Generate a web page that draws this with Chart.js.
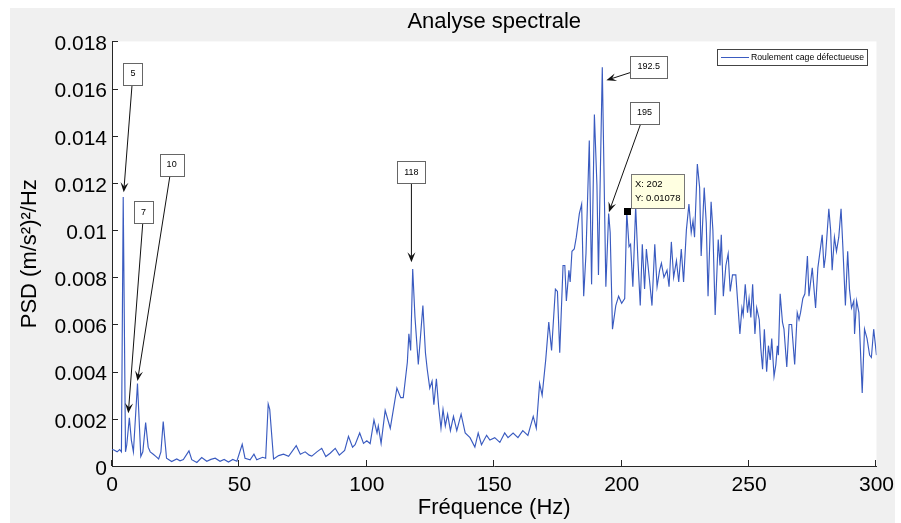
<!DOCTYPE html>
<html>
<head>
<meta charset="utf-8">
<title>Analyse spectrale</title>
<script src="https://cdn.jsdelivr.net/npm/chart.js@4.4.1/dist/chart.umd.min.js"></script>
<style>
  body { margin: 0; background: #fff; }
  canvas { display: block; }
</style>
</head>
<body>
<canvas id="chart" width="901" height="523"></canvas>
<script>
// spectrum (Hz / (m/s²)²/Hz)
const freq = [
  0, 0.8, 2, 3, 3.7, 4.4, 5.3, 5.8, 6.8, 7.6,
  8.4, 10, 11.3, 12.1, 13.2, 14.2, 15, 16.2, 17.3, 18.3,
  19.2, 20.1, 21.4, 23.4, 25.4, 26.7, 28, 30.2, 31.3, 33.3,
  35.2, 37.2, 38.8, 40.5, 42.4, 44, 45.7, 47.4, 49, 51.1,
  52.2, 54.2, 55.7, 56.8, 59.1, 60.3, 61.3, 61.9, 63.4, 65.4,
  67.3, 69.3, 72.3, 73.9, 75.8, 77.4, 78.4, 80.4, 82.3, 83.9,
  85.6, 87.6, 89.2, 91.3, 92.8, 94.4, 95.4, 97.2, 98.7, 100,
  101.3, 102.8, 104, 104.5, 105.6, 107.2, 109.2, 111.8, 113.3, 114.3,
  115.9, 116.5, 117.2, 118, 118.9, 120.2, 122, 123, 123.7, 124.7,
  125.6, 126.3, 127.3, 128.2, 129.1, 129.9, 130.8, 131.7, 132.8, 134,
  135.3, 137, 138.6, 140.5, 142.4, 143.7, 145, 147, 148.3, 150.2,
  152.2, 154.1, 155.4, 157.4, 159.3, 161.2, 163.2, 165.3, 166.5, 167.8,
  168.8, 170.2, 171.4, 172.5, 174, 174.8, 175.7, 177, 177.7, 178.3,
  179.3, 179.8, 180.5, 181.4, 182.2, 183.4, 184.3, 185.1, 186, 187.3,
  188.2, 189.3, 190.3, 190.9, 192.4, 193.8, 194.9, 195.5, 196.4, 197.7,
  198.8, 200, 201.2, 202, 202.9, 203.5, 204.4, 205.5, 206.4, 207.3,
  208.1, 209, 209.7, 211, 211.9, 213, 213.9, 214.9, 215.6, 216.6,
  217.8, 218.6, 219.5, 220.4, 221.5, 222.4, 223.4, 224.3, 225.4, 226.4,
  227.3, 228, 228.6, 229.7, 230.6, 231.2, 232.4, 233.2, 233.9, 235.1,
  235.8, 236.7, 237.9, 238.6, 239.1, 239.9, 240.9, 241.8, 242.6, 243.5,
  244.8, 245.5, 246.4, 247.2, 247.7, 248.5, 249.4, 250, 250.7, 251.4,
  252.3, 253, 254, 254.6, 255.3, 256, 256.9, 257.6, 258.3, 258.9,
  259.8, 260.5, 261.1, 261.5, 262.2, 263.1, 263.7, 264.8, 265.7, 266.7,
  267.9, 268.9, 269.6, 270.2, 271.1, 271.9, 272.9, 273.5, 274.8, 276.1,
  277, 278.7, 279.4, 280, 281.3, 282, 282.6, 283.5, 284.3, 285.2,
  286.1, 286.8, 287.8, 288.7, 289.4, 290.2, 291.1, 291.4, 292.2, 293.1,
  294.4, 295.3, 296.3, 297.3, 298, 298.9, 300
];
const psd = [
  0.0007, 0.00068, 0.0006, 0.0007, 0.0006, 0.0114, 0.0006, 0.0009, 0.00204, 0.0011,
  0.0006, 0.0035, 0.0004, 0.0006, 0.00184, 0.0008, 0.0006, 0.0005, 0.0004, 0.0003,
  0.0006, 0.00188, 0.00033, 0.00019, 0.0003, 0.00022, 0.00027, 0.00064, 0.00027, 0.00015,
  0.00036, 0.0002, 0.00028, 0.00033, 0.0002, 0.00028, 0.00017, 0.00028, 0.0002, 0.00092,
  0.00033, 0.00026, 0.0005, 0.00026, 0.00037, 0.00033, 0.00263, 0.0024, 0.0003, 0.00044,
  0.0005, 0.00041, 0.00086, 0.0005, 0.0006, 0.00046, 0.00042, 0.0006, 0.00075, 0.0004,
  0.00054, 0.00075, 0.00046, 0.00066, 0.00126, 0.0008, 0.0009, 0.0014, 0.00096, 0.00107,
  0.00095, 0.00195, 0.0014, 0.0017, 0.00096, 0.00236, 0.0016, 0.0033, 0.0029, 0.0029,
  0.0044, 0.0056, 0.0049, 0.00835, 0.0063, 0.0043, 0.0068, 0.0048, 0.0041, 0.0033,
  0.0036, 0.0026, 0.0037, 0.0025, 0.0016, 0.0024, 0.0017, 0.0022, 0.0015, 0.0021,
  0.0015, 0.0022, 0.0014, 0.0012, 0.0008, 0.0014, 0.0009, 0.0013, 0.0011, 0.0012,
  0.001, 0.0014, 0.0012, 0.0014, 0.0012, 0.0015, 0.0013, 0.0021, 0.0016, 0.0035,
  0.003, 0.0045, 0.0061, 0.0049, 0.0075, 0.0074, 0.0048, 0.0085, 0.0085, 0.007,
  0.0083, 0.0078, 0.0091, 0.0092, 0.0097, 0.0107, 0.0111, 0.0072, 0.009, 0.0138,
  0.0077, 0.0149, 0.0119, 0.0081, 0.0169, 0.0076, 0.0107, 0.0099, 0.0058, 0.0068,
  0.0072, 0.0069, 0.0071, 0.01078, 0.0093, 0.0094, 0.0076, 0.011, 0.0087, 0.0068,
  0.0094, 0.0075, 0.0092, 0.0078, 0.0068, 0.0094, 0.0076, 0.0083, 0.0086, 0.008,
  0.0083, 0.0076, 0.0095, 0.008, 0.0087, 0.0078, 0.0092, 0.0078, 0.01, 0.0111,
  0.0099, 0.0104, 0.0097, 0.0128, 0.0118, 0.0089, 0.0118, 0.0103, 0.0072, 0.0112,
  0.01, 0.0064, 0.0096, 0.0085, 0.0098, 0.0072, 0.0085, 0.009, 0.0074, 0.0081,
  0.0081, 0.007, 0.0056, 0.0067, 0.0064, 0.0077, 0.0065, 0.0071, 0.0063, 0.0077,
  0.0056, 0.0067, 0.0062, 0.005, 0.0041, 0.0058, 0.004, 0.0051, 0.0045, 0.0054,
  0.0038, 0.0043, 0.0051, 0.0047, 0.0073, 0.0061, 0.0058, 0.0042, 0.006, 0.006,
  0.0043, 0.0065, 0.0062, 0.0065, 0.0071, 0.0073, 0.0089, 0.0072, 0.0084, 0.0067,
  0.0084, 0.0098, 0.0084, 0.0089, 0.0109, 0.01, 0.0083, 0.0097, 0.0091, 0.0097,
  0.0109, 0.0093, 0.0068, 0.0091, 0.0075, 0.0067, 0.007, 0.0056, 0.007, 0.0065,
  0.0031, 0.0058, 0.0054, 0.0047, 0.0046, 0.0058, 0.0047
];
const seriesLabel = 'Roulement cage défectueuse';

// text-arrow annotations: label, arrow tip and box centre in data units
const noteLabels = ['5', '7', '10', '118', '192.5', '195'];
const noteTipX = [4.6, 6.4, 10.0, 117.5, 194.0, 195.0];
const noteTipY = [0.0116, 0.00224, 0.0036, 0.00864, 0.01635, 0.01076];
const noteBoxX = [8.2, 12.4, 23.4, 117.5, 210.6, 209.0];
const noteBoxY = [0.01662, 0.01076, 0.01276, 0.01245, 0.01693, 0.01497];

// data cursor
const cursorX = 202;
const cursorY = 0.01078;

const FONT = "'Liberation Sans', Arial, Helvetica, sans-serif";
const AXIS = '#262626';

function drawArrow(ctx, x1, y1, x2, y2) {
  const a = Math.atan2(y2 - y1, x2 - x1);
  const c = Math.cos(a), s = Math.sin(a);
  const L = 10, W = 4;
  ctx.beginPath();
  ctx.moveTo(x1, y1);
  ctx.lineTo(x2 - c * L * 0.6, y2 - s * L * 0.6);
  ctx.stroke();
  ctx.beginPath();
  ctx.moveTo(x2, y2);
  ctx.lineTo(x2 - L * c + W * s, y2 - L * s - W * c);
  ctx.lineTo(x2 - L * 0.6 * c, y2 - L * 0.6 * s);
  ctx.lineTo(x2 - L * c - W * s, y2 - L * s + W * c);
  ctx.closePath();
  ctx.fill();
}

const plotDecor = {
  id: 'plotDecor',
  beforeDraw(chart) {
    const { ctx, chartArea: a } = chart;
    ctx.save();
    ctx.fillStyle = '#fff';
    ctx.fillRect(0, 0, chart.width, chart.height);
    ctx.fillStyle = '#f0f0f0';
    ctx.fillRect(10, 8, 885, chart.height - 8);
    ctx.fillStyle = '#fff';
    ctx.fillRect(a.left, a.top, a.right - a.left, a.bottom - a.top);
    ctx.restore();
  },
  afterDraw(chart) {
    const { ctx, chartArea: a } = chart;
    const xs = chart.scales.x, ys = chart.scales.y;
    ctx.save();

    // inward tick marks
    ctx.strokeStyle = AXIS;
    ctx.lineWidth = 1;
    ctx.beginPath();
    xs.ticks.forEach(t => {
      const px = Math.round(xs.getPixelForValue(t.value)) - 0.5;
      ctx.moveTo(px, a.bottom);
      ctx.lineTo(px, a.bottom - 6);
    });
    ys.ticks.forEach(t => {
      const py = Math.round(ys.getPixelForValue(t.value)) + 0.5;
      ctx.moveTo(a.left, py);
      ctx.lineTo(a.left + 6, py);
    });
    ctx.stroke();

    // annotations
    ctx.font = '9px ' + FONT;
    ctx.textAlign = 'center';
    ctx.textBaseline = 'middle';
    noteLabels.forEach((lab, i) => {
      const cx = xs.getPixelForValue(noteBoxX[i]);
      const cy = ys.getPixelForValue(noteBoxY[i]);
      const tx = xs.getPixelForValue(noteTipX[i]);
      const ty = ys.getPixelForValue(noteTipY[i]);
      const w = ctx.measureText(lab).width + 14, h = 22;
      const dx = tx - cx, dy = ty - cy;
      const k = Math.min(dx ? (w / 2) / Math.abs(dx) : Infinity, dy ? (h / 2) / Math.abs(dy) : Infinity);
      ctx.strokeStyle = '#111';
      ctx.fillStyle = '#111';
      drawArrow(ctx, cx + dx * k, cy + dy * k, tx, ty);
      ctx.fillStyle = '#fff';
      ctx.strokeStyle = '#666';
      ctx.fillRect(Math.round(cx - w / 2), Math.round(cy - h / 2), Math.round(w), h);
      ctx.strokeRect(Math.round(cx - w / 2) + 0.5, Math.round(cy - h / 2) + 0.5, Math.round(w), h);
      ctx.fillStyle = '#000';
      ctx.fillText(lab, cx, cy);
    });

    // data cursor marker and tip
    const mx = xs.getPixelForValue(cursorX), my = ys.getPixelForValue(cursorY);
    ctx.fillStyle = '#000';
    ctx.fillRect(Math.round(mx) - 3, Math.round(my) - 4, 7, 7);
    ctx.font = '9.5px ' + FONT;
    const l1 = 'X: ' + cursorX, l2 = 'Y: ' + cursorY;
    const bw = Math.round(Math.max(ctx.measureText(l1).width, ctx.measureText(l2).width) + 8);
    const bx = Math.round(mx) + 4, by = Math.round(my) - 38;
    ctx.fillStyle = '#ffffe1';
    ctx.fillRect(bx, by, bw, 34);
    ctx.strokeStyle = '#777';
    ctx.strokeRect(bx + 0.5, by + 0.5, bw, 34);
    ctx.fillStyle = '#000';
    ctx.textAlign = 'left';
    ctx.fillText(l1, bx + 4, by + 10);
    ctx.fillText(l2, bx + 4, by + 24);

    // legend
    const ds = chart.data.datasets[0];
    ctx.font = '8.7px ' + FONT;
    const lw = Math.round(ctx.measureText(ds.label).width + 37);
    const lx = Math.round(a.right) - 9 - lw, ly = Math.round(a.top) + 8;
    ctx.fillStyle = '#fff';
    ctx.fillRect(lx, ly, lw, 16);
    ctx.strokeStyle = '#444';
    ctx.strokeRect(lx + 0.5, ly + 0.5, lw, 16);
    ctx.strokeStyle = ds.borderColor;
    ctx.lineWidth = 1;
    ctx.beginPath();
    ctx.moveTo(lx + 4, ly + 8.5);
    ctx.lineTo(lx + 32, ly + 8.5);
    ctx.stroke();
    ctx.fillStyle = '#000';
    ctx.fillText(ds.label, lx + 34, ly + 9);

    ctx.restore();
  }
};

const tickFont = { family: FONT, size: 21 };
const titleFont = { family: FONT, size: 22 };

new Chart(document.getElementById('chart'), {
  type: 'line',
  data: {
    datasets: [{
      label: seriesLabel,
      data: freq.map((f, i) => ({ x: f, y: psd[i] })),
      borderColor: '#3a5bc0',
      borderWidth: 1.15,
      pointRadius: 0,
      tension: 0,
      fill: false
    }]
  },
  options: {
    responsive: false,
    animation: false,
    events: [],
    layout: { padding: { left: 10, top: 8, right: 24, bottom: 0 } },
    plugins: {
      legend: { display: false },
      tooltip: { enabled: false },
      title: {
        display: true,
        text: 'Analyse spectrale',
        fullSize: false,
        color: '#000',
        font: { family: FONT, size: 22, weight: 'normal' },
        padding: { top: 1, bottom: 6 }
      }
    },
    scales: {
      x: {
        type: 'linear',
        min: 0,
        max: 300,
        ticks: { stepSize: 50, font: tickFont, color: '#000', padding: 7, maxRotation: 0 },
        grid: { display: false, drawTicks: false },
        border: { display: true, color: AXIS, width: 1 },
        title: { display: true, text: 'Fréquence (Hz)', font: titleFont, color: '#000', padding: { top: 0, bottom: 2 } },
        afterFit: s => { s.height = 57; }
      },
      y: {
        min: 0,
        max: 0.018,
        ticks: {
          stepSize: 0.002,
          font: tickFont,
          color: '#000',
          padding: 5,
          labelOffset: 3,
          callback: v => String(+v.toFixed(4))
        },
        grid: { display: false, drawTicks: false },
        border: { display: true, color: AXIS, width: 1 },
        title: { display: true, text: 'PSD (m/s²)²/Hz', font: titleFont, color: '#000', padding: { top: 7, bottom: 0 } },
        afterFit: s => { s.width = 102; }
      }
    }
  },
  plugins: [plotDecor]
});
</script>
</body>
</html>
